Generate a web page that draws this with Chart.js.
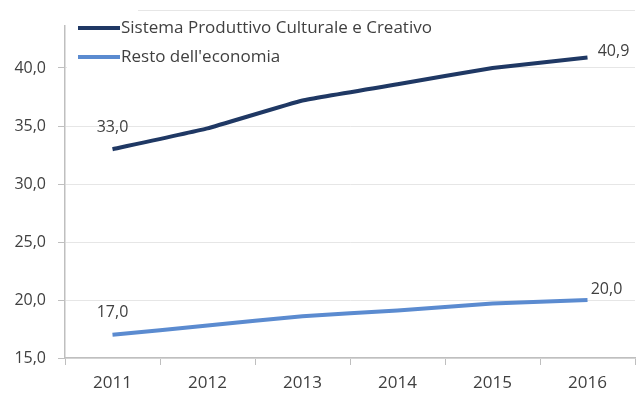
<!DOCTYPE html>
<html>
<head>
<meta charset="utf-8">
<script src="https://cdn.jsdelivr.net/npm/chart.js@4/dist/chart.umd.min.js"></script>
<style>
  body { margin: 0; background: #fff; }
  #wrap { width: 644px; height: 394px; }
</style>
</head>
<body>
<div id="wrap"><canvas id="myChart"></canvas></div>
<script>
const anni = ["2011", "2012", "2013", "2014", "2015", "2016"];
const sistema_produttivo = [33.0, 34.8, 37.2, 38.6, 40.0, 40.9];
const resto_economia = [17.0, 17.8, 18.6, 19.1, 19.7, 20.0];
const nomi_serie = ["Sistema Produttivo Culturale e Creativo", "Resto dell'economia"];
const colori = ["#1f3864", "#5b8bd0"];

const fmt = (v) => v.toFixed(1).replace(".", ",");

// etichette sul primo e ultimo punto
const etichette = {
  id: "etichette",
  afterDatasetsDraw(chart) {
    const c = chart.ctx;
    c.save();
    c.font = "16px 'Open Sans'";
    c.fillStyle = "#404040";
    c.textAlign = "center";
    c.textBaseline = "middle";
    const off = [
      [[0, -22], [26, -6]],
      [[0, -22], [19, -11]],
    ];
    chart.data.datasets.forEach((ds, i) => {
      const pts = chart.getDatasetMeta(i).data;
      const primo = pts[0];
      const ultimo = pts[pts.length - 1];
      c.fillText(fmt(ds.data[0]), primo.x + off[i][0][0], primo.y + off[i][0][1]);
      c.fillText(fmt(ds.data[ds.data.length - 1]), ultimo.x + off[i][1][0], ultimo.y + off[i][1][1]);
    });
    c.restore();
  },
};

// legenda in alto a sinistra, con sfondo bianco sopra la griglia
const legenda = {
  id: "legenda",
  beforeDatasetsDraw(chart) {
    const c = chart.ctx;
    c.save();
    c.fillStyle = "#fff";
    c.fillRect(58, 0, 80, 25);
    c.fillRect(67, 13, 436, 58);
    c.restore();
  },
  afterDraw(chart) {
    const c = chart.ctx;
    c.save();
    c.font = "17px 'Open Sans'";
    c.textBaseline = "middle";
    c.fillStyle = "#404040";
    nomi_serie.forEach((nome, i) => {
      const y = 28 + i * 29;
      c.strokeStyle = colori[i];
      c.lineWidth = 4;
      c.beginPath();
      c.moveTo(78, y);
      c.lineTo(120, y);
      c.stroke();
      c.fillText(nome, 121, y);
    });
    c.restore();
  },
};

const ctx = document.getElementById("myChart").getContext("2d");
const myChart = new Chart(ctx, {
  type: "line",
  data: {
    labels: anni,
    datasets: [
      {
        label: nomi_serie[0],
        data: sistema_produttivo,
        borderColor: colori[0],
        borderWidth: 4,
        pointRadius: 0,
        tension: 0.1,
      },
      {
        label: nomi_serie[1],
        data: resto_economia,
        borderColor: colori[1],
        borderWidth: 4,
        pointRadius: 0,
        tension: 0.1,
      },
    ],
  },
  options: {
    responsive: true,
    maintainAspectRatio: false,
    animation: false,
    layout: { padding: { top: 10, right: 9, left: 0, bottom: 0 } },
    plugins: { legend: { display: false }, tooltip: { enabled: false } },
    scales: {
      x: {
        offset: true,
        grid: { offset: true, drawOnChartArea: false, color: "#bfbfbf", tickLength: 7 },
        border: { color: "#bfbfbf", width: 1.5 },
        ticks: { color: "#404040", font: { family: "Open Sans", size: 17 }, padding: 8 },
        afterFit: (scale) => { scale.height = 36; },
      },
      y: {
        min: 15,
        max: 45,
        grid: {
          color: "#e6e6e6",
          tickColor: "#bfbfbf",
          tickLength: 7,
          drawTicks: true,
        },
        border: { color: "#bfbfbf", width: 1.5 },
        ticks: {
          stepSize: 5,
          color: "#404040",
          font: { family: "Open Sans", size: 16 },
          padding: 12,
          callback: (v) => (v > 40 ? "" : fmt(v)),
        },
        afterFit: (scale) => {
          scale.width = 65;
          scale.paddingTop = 0;
        },
      },
    },
  },
  plugins: [etichette, legenda],
});
</script>
</body>
</html>
